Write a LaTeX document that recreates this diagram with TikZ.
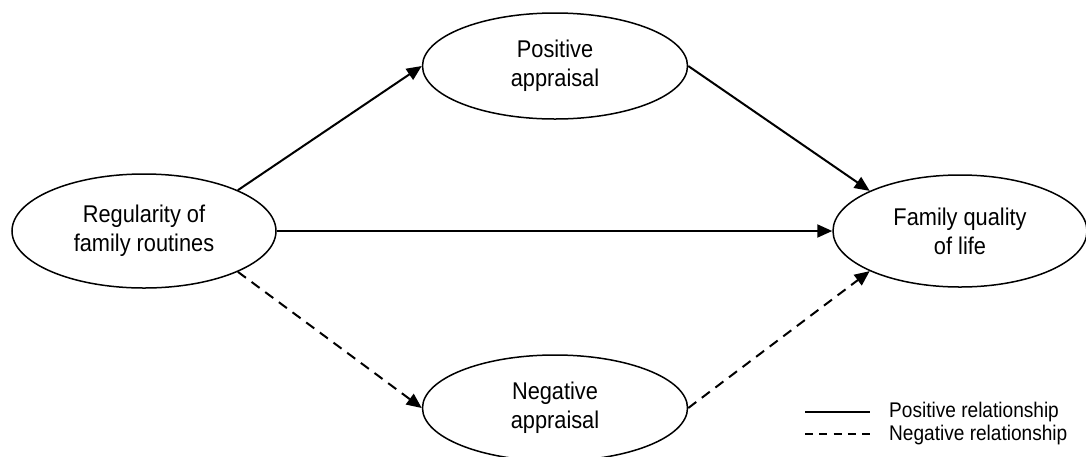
\documentclass[tikz,border=0pt]{standalone}
\usepackage{fontspec}
\setmainfont{Liberation Sans}[FakeStretch=0.9]
\usetikzlibrary{shapes.geometric,arrows.meta}
\begin{document}
\begin{tikzpicture}[x=1pt,y=-1pt,
  construct/.style={ellipse, draw, line width=1.5pt, inner sep=0pt, align=center,
    font=\fontsize{24.2}{29}\selectfont},
  posarrow/.style={line width=2pt, -{Triangle[length=15pt,width=13pt]}},
  negarrow/.style={posarrow, dash pattern=on 10pt off 7pt},
  legtext/.style={anchor=west, inner sep=0pt, font=\fontsize{21.2}{23}\selectfont}]
\useasboundingbox (0,0) rectangle (1086,456);
\clip (0,0) rectangle (1086,456);
\node[construct, minimum width=264pt, minimum height=114pt] (reg) at (144,231) {Regularity of\\family routines};
\node[construct, minimum width=265pt, minimum height=106pt] (pa) at (555,66) {Positive\\appraisal};
\node[construct, minimum width=265pt, minimum height=106pt] (na) at (555,408) {Negative\\appraisal};
\node[construct, minimum width=254pt, minimum height=112pt] (fql) at (960,231) {Family quality\\of life};
\draw[posarrow] (reg.north east) -- (pa.west);
\draw[posarrow] (pa.east) -- (fql.north west);
\draw[posarrow] (reg.east) -- (fql.west);
\draw[negarrow] (reg.south east) -- (na.west);
\draw[negarrow] (na.east) -- (fql.south west);
\coordinate (l1a) at (805,412);
\coordinate (l1b) at (870,412);
\coordinate (l2a) at (805,434);
\coordinate (l2b) at (870,434);
\draw[line width=1.3pt] (l1a) -- (l1b);
\draw[line width=1.3pt, dash pattern=on 8pt off 6.25pt] (l2a) -- (l2b);
\node[legtext] (lp) at (889,412) {Positive relationship};
\node[legtext] (ln) at (889,435) {Negative relationship};
\end{tikzpicture}
\end{document}
